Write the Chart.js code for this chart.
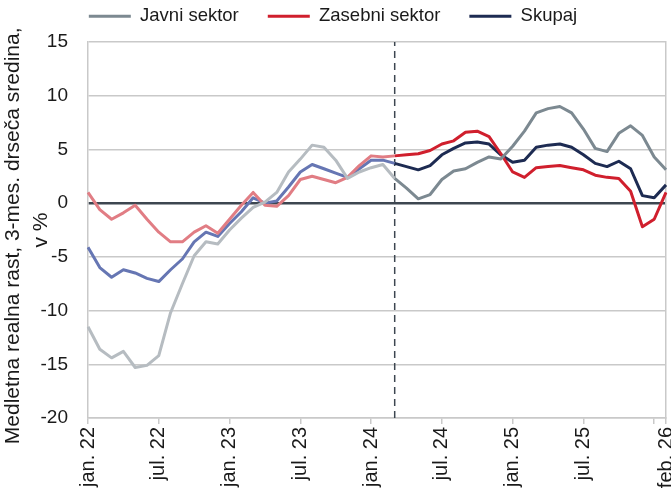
<!DOCTYPE html>
<html>
<head>
<meta charset="utf-8">
<script src="https://cdn.jsdelivr.net/npm/chart.js@4/dist/chart.umd.min.js"></script>
<style>
  html, body { margin: 0; padding: 0; background: #fff; }
</style>
</head>
<body>
<canvas id="wageChart" width="671" height="497"></canvas>
<script>
// mesečni podatki jan. 2022 - feb. 2026
const months = [
  "jan. 22", "feb. 22", "mar. 22", "apr. 22", "maj 22", "jun. 22", "jul. 22", "avg. 22", "sep. 22", "okt. 22", "nov. 22", "dec. 22",
  "jan. 23", "feb. 23", "mar. 23", "apr. 23", "maj 23", "jun. 23", "jul. 23", "avg. 23", "sep. 23", "okt. 23", "nov. 23", "dec. 23",
  "jan. 24", "feb. 24", "mar. 24", "apr. 24", "maj 24", "jun. 24", "jul. 24", "avg. 24", "sep. 24", "okt. 24", "nov. 24", "dec. 24",
  "jan. 25", "feb. 25", "mar. 25", "apr. 25", "maj 25", "jun. 25", "jul. 25", "avg. 25", "sep. 25", "okt. 25", "nov. 25", "dec. 25",
  "jan. 26", "feb. 26"
];
const tickIndexes = [0, 6, 12, 18, 24, 30, 36, 42, 48, 49];
const labelIndexes = [0, 6, 12, 18, 24, 30, 36, 42, 49];
const splitIndex = 26; // navpična črta, pred njo bledejše barve

const javni = [
  -11.5, -13.6, -14.4, -13.8, -15.3, -15.1, -14.2, -10.2, -7.5, -4.9, -3.6, -3.8,
  -2.5, -1.4, -0.4, 0.1, 1.0, 2.9, 4.1, 5.4, 5.2, 4.0, 2.3, 2.9,
  3.3, 3.6, 2.3, 1.4, 0.4, 0.8, 2.2, 3.0, 3.2, 3.8, 4.3, 4.1,
  5.3, 6.7, 8.4, 8.8, 9.0, 8.4, 6.9, 5.1, 4.8, 6.5, 7.2, 6.3,
  4.3, 3.1
];
const zasebni = [
  1.0, -0.6, -1.5, -0.9, -0.2, -1.5, -2.7, -3.6, -3.6, -2.7, -2.1, -2.8,
  -1.5, -0.2, 1.0, -0.2, -0.3, 0.7, 2.2, 2.5, 2.2, 1.9, 2.4, 3.5,
  4.4, 4.3, 4.4, 4.5, 4.6, 4.9, 5.5, 5.8, 6.6, 6.7, 6.2, 4.6,
  2.9, 2.4, 3.3, 3.4, 3.5, 3.3, 3.1, 2.6, 2.4, 2.3, 1.1, -2.2,
  -1.5, 1.0
];
const skupaj = [
  -4.1, -6.0, -6.9, -6.2, -6.5, -7.0, -7.3, -6.2, -5.2, -3.6, -2.7, -3.1,
  -1.9, -0.8, 0.5, 0.0, 0.2, 1.5, 2.9, 3.6, 3.2, 2.8, 2.4, 3.2,
  4.0, 4.0, 3.7, 3.4, 3.1, 3.5, 4.5, 5.1, 5.6, 5.7, 5.5, 4.5,
  3.8, 4.0, 5.2, 5.4, 5.5, 5.2, 4.5, 3.7, 3.4, 3.9, 3.2, 0.7,
  0.5, 1.7
];
const yMin = -20, yMax = 15, yStep = 5;

const fontName = "'Liberation Sans', Arial, sans-serif";
const gridColor = "#c9c9c9";
const axisDark = "#3d4650";

function series(label, data, dark, faded) {
  return {
    label: label,
    data: data,
    borderColor: dark,
    backgroundColor: dark,
    borderWidth: 3,
    pointRadius: 0,
    tension: 0,
    borderJoinStyle: "round",
    segment: {
      borderColor: (c) => (c.p0DataIndex < splitIndex ? faded : dark),
    },
  };
}

// legenda: fiksna višina, da je risalna površina na pravem mestu
const legendHeight = {
  id: "legendHeight",
  beforeInit(chart) {
    const fit = chart.legend.fit;
    chart.legend.fit = function () {
      fit.bind(chart.legend)();
      this.height = 64;
    };
  },
};

var ctx = document.getElementById("wageChart").getContext("2d");
var wageChart = new Chart(ctx, {
  type: "line",
  data: {
    labels: months,
    datasets: [
      series("Javni sektor", javni, "#7c8991", "#b6bcc1"),
      series("Zasebni sektor", zasebni, "#d01f2d", "#e17d84"),
      series("Skupaj", skupaj, "#1d2b52", "#6676b3"),
      {
        label: "",
        data: [
          { x: months[splitIndex], y: yMin },
          { x: months[splitIndex], y: yMax },
        ],
        borderColor: axisDark,
        borderWidth: 1.5,
        borderDash: [7, 5],
        pointRadius: 0,
      },
    ],
  },
  options: {
    responsive: false,
    animation: false,
    devicePixelRatio: 1,
    layout: {
      autoPadding: false,
      padding: { top: -22, right: 5, left: 0, bottom: 0 },
    },
    plugins: {
      tooltip: { enabled: false },
      legend: {
        position: "top",
        align: "center",
        labels: {
          usePointStyle: true,
          pointStyle: "line",
          pointStyleWidth: 42,
          padding: 29,
          color: "#1a1a1a",
          font: { family: fontName, size: 18.5 },
          filter: (item) => item.text !== "",
        },
      },
    },
    scales: {
      x: {
        type: "category",
        offset: false,
        afterFit: (s) => {
          s.height = 79;
          s.paddingLeft = 0;
          s.paddingRight = 0;
        },
        afterBuildTicks: (s) => {
          s.ticks = s.ticks.filter((t) => tickIndexes.includes(t.value));
        },
        grid: {
          drawOnChartArea: false,
          drawTicks: true,
          tickLength: 6,
          color: gridColor,
          lineWidth: 1.5,
        },
        border: { color: gridColor, width: 1.5 },
        ticks: {
          autoSkip: false,
          minRotation: 90,
          maxRotation: 90,
          padding: 3,
          color: "#1a1a1a",
          font: { family: fontName, size: 20 },
          callback: function (value) {
            return labelIndexes.includes(value) ? months[value] : "";
          },
        },
      },
      y: {
        min: yMin,
        max: yMax,
        afterFit: (s) => {
          s.width = 88;
          s.paddingTop = 0;
          s.paddingBottom = 0;
        },
        ticks: {
          stepSize: yStep,
          padding: 20,
          color: "#1a1a1a",
          font: { family: fontName, size: 19 },
        },
        grid: {
          drawTicks: false,
          color: (c) => (c.tick.value === 0 ? axisDark : gridColor),
          lineWidth: (c) => (c.tick.value === 0 ? 2.5 : 1.5),
        },
        border: { color: gridColor, width: 1.5 },
        title: {
          display: true,
          text: ["Medletna realna rast, 3-mes. drseča sredina,  ", "v %"],
          color: "#1a1a1a",
          padding: { top: 0, bottom: 0 },
          font: { family: fontName, size: 21, lineHeight: 1.3 },
        },
      },
      yRight: {
        position: "right",
        min: yMin,
        max: yMax,
        afterFit: (s) => { s.width = 0; },
        ticks: { display: false },
        grid: { drawOnChartArea: false, drawTicks: false },
        border: { color: gridColor, width: 1.5 },
      },
    },
  },
  plugins: [legendHeight],
});
</script>
</body>
</html>
